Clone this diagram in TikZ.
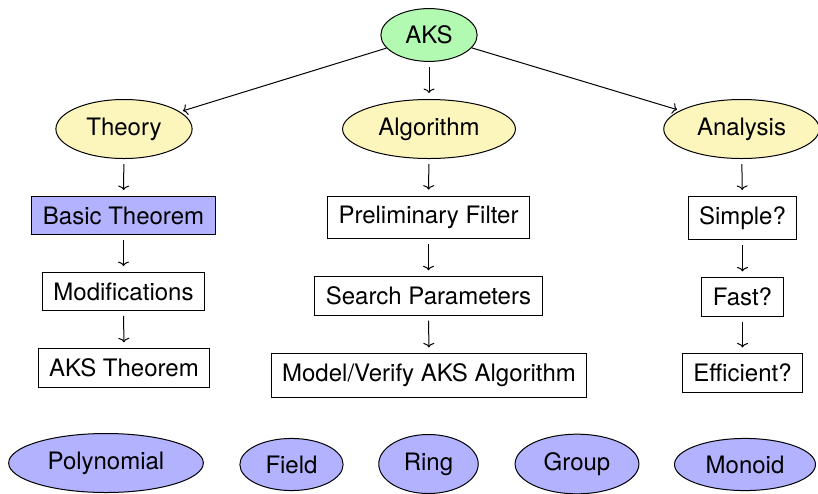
\documentclass[tikz,border=0pt]{standalone}
\usepackage{fontspec}
\setmainfont{TeX Gyre Heros}
\usetikzlibrary{shapes.geometric,arrows.meta}
\definecolor{rootgreen}{RGB}{178,250,178}
\definecolor{topicyellow}{RGB}{252,246,188}
\definecolor{conceptblue}{RGB}{178,178,255}
\begin{document}
\begin{tikzpicture}[x=1pt,y=-1pt,
  every node/.style={font=\fontsize{24}{28}\selectfont, line width=1pt},
  oval/.style={ellipse, draw, inner xsep=10.5pt, inner ysep=9.5pt},
  topic/.style={oval, fill=topicyellow},
  concept/.style={oval, fill=conceptblue},
  box/.style={rectangle, draw, inner xsep=11pt, inner ysep=10pt},
  conn/.style={-{To[length=4.5pt,width=11pt]}, line width=1pt, shorten <=5pt, shorten >=6pt},
  diag/.style={-{To[length=4.5pt,width=11pt]}, line width=1pt, shorten >=3pt}]
\useasboundingbox (0,0) rectangle (818,493);

\node[oval, fill=rootgreen] (aks) at (429,35) {AKS};

\node[topic] (theory) at (124,129) {Theory};
\node[topic] (algo) at (429,129) {Algorithm};
\node[topic] (anal) at (741.5,129) {Analysis};

\node[box, fill=conceptblue] (basic) at (123.5,215.5) {Basic Theorem};
\node[box] (mod) at (123.5,291.5) {Modifications};
\node[box] (akst) at (124,368) {AKS Theorem};

\node[box] (prelim) at (428.5,217.5) {Preliminary Filter};
\node[box] (search) at (428.5,296) {Search Parameters};
\node[box] (model) at (429,375.5) {Model/Verify AKS Algorithm};

\node[box] (simple) at (742.5,218) {Simple?};
\node[box] (fast) at (742.5,297) {Fast?};
\node[box] (eff) at (742.5,373) {Efficient?};

\node[concept] (poly) at (106,463) {Polynomial};
\node[concept] (field) at (291.5,464.5) {Field};
\node[concept] (ring) at (428.5,464) {Ring};
\node[concept] (group) at (577,464) {Group};
\node[concept] (monoid) at (745,464.5) {Monoid};

\draw[diag] (aks) -- (theory);
\draw[diag] (aks) -- (anal);
\draw[conn] (aks) -- (algo);

\draw[conn] (theory) -- (basic);
\draw[conn] (basic) -- (mod);
\draw[conn] (mod) -- (akst);

\draw[conn] (algo) -- (prelim);
\draw[conn] (prelim) -- (search);
\draw[conn] (search) -- (model);

\draw[conn] (anal) -- (simple);
\draw[conn] (simple) -- (fast);
\draw[conn] (fast) -- (eff);
\end{tikzpicture}
\end{document}
